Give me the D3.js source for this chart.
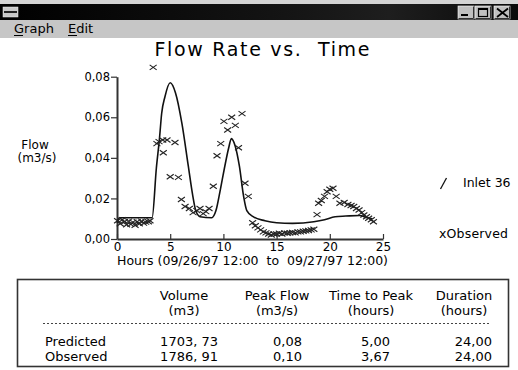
<!DOCTYPE html>
<html><head><meta charset="utf-8">
<script src="https://cdn.jsdelivr.net/npm/d3@7"></script>
<style>
html,body{margin:0;padding:0;background:#fff;}
svg{display:block;font-family:"DejaVu Sans",Verdana,sans-serif;}
</style></head>
<body>
<svg id="c" width="518" height="370"></svg>
<script>
// ---------- data ----------
const title = "Flow Rate vs.  Time";
const xTicks = [0, 5, 10, 15, 20, 25];
const yTicks = [0, 0.02, 0.04, 0.06, 0.08];
const yTickLabels = ["0,00", "0,02", "0,04", "0,06", "0,08"];
const xLabel = "Hours (09/26/97 12:00  to  09/27/97 12:00)";
const yLabel = ["Flow", "(m3/s)"];
const seriesNames = ["Inlet 36", "xObserved"];

// predicted (Inlet 36): [hour, flow]
const predHours = [0, 0.25, 3.3, 3.7, 4.0, 4.2, 4.5, 5.0, 5.5, 6.1, 6.7, 7.1, 7.4, 7.8, 8.9, 9.3, 9.7, 10.1, 10.5, 10.75, 11.1, 11.5, 11.9, 12.2, 12.8, 13.9, 15, 16.5, 18.5, 19.5, 20.5, 21.5, 22.8, 23.5, 24];
const predFlow  = [0.008, 0.0105, 0.0105, 0.035, 0.050, 0.062, 0.070, 0.077, 0.072, 0.057, 0.036, 0.022, 0.014, 0.011, 0.0105, 0.014, 0.024, 0.035, 0.045, 0.0495, 0.046, 0.036, 0.021, 0.014, 0.011, 0.009, 0.008, 0.0077, 0.0085, 0.0095, 0.011, 0.0113, 0.0116, 0.0105, 0.010];

// observed: [hour, flow]
const obsHours = [0.05, 0.3, 0.5, 0.7, 0.9, 1.1, 1.3, 1.5, 1.7, 1.9, 2.1, 2.3, 2.5, 2.7, 2.95, 3.1,
  3.4, 3.75, 3.95, 4.3, 4.35, 4.7, 5.0, 5.45, 5.77, 6.05, 6.4, 6.8, 7.15, 7.5, 7.8, 8.1, 8.35, 8.65,
  9.05, 9.4, 9.75, 10.05, 10.4, 10.78, 11.12, 11.42, 11.75, 12.03, 12.34,
  12.75, 13.0, 13.25, 13.5, 13.75, 14.0, 14.25, 14.5, 14.75, 15.0, 15.25, 15.5, 15.75, 16.0, 16.25, 16.5, 16.75, 17.0, 17.25, 17.5, 17.75, 18.0, 18.25, 18.5,
  18.8, 18.95, 19.2, 19.5, 19.75, 20.0, 20.3, 20.6, 20.95, 21.35, 21.7, 22.0, 22.25, 22.5, 22.75, 23.0, 23.2, 23.45, 23.65, 23.9, 24.1];
const obsFlow = [0.009, 0.0075, 0.0095, 0.0085, 0.007, 0.0088, 0.0072, 0.0083, 0.0068, 0.0085, 0.0075, 0.0088, 0.0078, 0.0083, 0.0085, 0.009,
  0.0846, 0.047, 0.048, 0.0488, 0.0425, 0.0488, 0.0307, 0.0476, 0.0304, 0.0195, 0.016, 0.015, 0.013, 0.014, 0.015, 0.0125, 0.0135, 0.015,
  0.026, 0.041, 0.047, 0.058, 0.0537, 0.060, 0.056, 0.045, 0.0618, 0.0275, 0.021,
  0.008, 0.0065, 0.0055, 0.0045, 0.0035, 0.003, 0.0025, 0.002, 0.0025, 0.0025, 0.0028, 0.0025, 0.003, 0.0028, 0.003, 0.0032, 0.003, 0.0035, 0.0035, 0.0038, 0.004, 0.0042, 0.0045, 0.0048,
  0.012, 0.0176, 0.019, 0.021, 0.0233, 0.0245, 0.025, 0.021, 0.0176, 0.018, 0.017, 0.0165, 0.016, 0.015, 0.0143, 0.013, 0.0118, 0.011, 0.0102, 0.0095, 0.0085];

// summary table
const tableHeaders1 = ["Volume", "Peak Flow", "Time to Peak", "Duration"];
const tableHeaders2 = ["(m3)", "(m3/s)", "(hours)", "(hours)"];
const rowNames = ["Predicted", "Observed"];
const predictedRow = ["1703, 73", "0,08", "5,00", "24,00"];
const observedRow  = ["1786, 91", "0,10", "3,67", "24,00"];
const menuItems = ["Graph", "Edit"];

// ---------- drawing ----------
const svg = d3.select("#c");

// window chrome
svg.append("rect").attr("x",0).attr("y",0).attr("width",518).attr("height",4).attr("fill","#d4d4d4");
const grad = svg.append("defs").append("linearGradient").attr("id","tb").attr("x1","0").attr("x2","1");
grad.append("stop").attr("offset","0").attr("stop-color","#000");
grad.append("stop").attr("offset","0.55").attr("stop-color","#141414");
grad.append("stop").attr("offset","0.75").attr("stop-color","#1e1e1e");
grad.append("stop").attr("offset","1").attr("stop-color","#0a0a0a");
svg.append("rect").attr("x",0).attr("y",4).attr("width",518).attr("height",16).attr("fill","url(#tb)");
// system icon
svg.append("rect").attr("x",3).attr("y",7).attr("width",15).attr("height",10).attr("fill","#c8c8c8").attr("stroke","#eee").attr("stroke-width",0.5);
svg.append("rect").attr("x",4).attr("y",11).attr("width",13).attr("height",2).attr("fill","#222");
// buttons
const btnX = [458, 475, 494];
btnX.forEach((bx,i)=>{
  svg.append("rect").attr("x",bx).attr("y",6).attr("width",16).attr("height",13).attr("fill","#c0c0c0").attr("stroke","#fff").attr("stroke-width",0.6);
  svg.append("path").attr("d",`M${bx+0.5},18.5H${bx+15.5}V6.5`).attr("fill","none").attr("stroke","#333");
});
svg.append("rect").attr("x",461).attr("y",14).attr("width",7).attr("height",2).attr("fill","#000");
svg.append("rect").attr("x",478.5).attr("y",8.5).attr("width",9).attr("height",8).attr("fill","none").attr("stroke","#000").attr("stroke-width",1.2);
svg.append("rect").attr("x",478.5).attr("y",8.5).attr("width",9).attr("height",1.5).attr("fill","#000");
svg.append("path").attr("d","M497,8.5L508,17 M508,8.5L497,17").attr("stroke","#000").attr("stroke-width",1.8);
// menu bar
svg.append("rect").attr("x",0).attr("y",20).attr("width",518).attr("height",18).attr("fill","#c6c6c6");
const menuX = [14, 68];
menuItems.forEach((m,i)=>{
  svg.append("text").attr("x",menuX[i]).attr("y",33).attr("font-size",13).attr("fill","#000").text(m);
  svg.append("line").attr("x1",menuX[i]).attr("x2",menuX[i]+9).attr("y1",35.5).attr("y2",35.5).attr("stroke","#000");
});

// chart scales
const x = d3.scaleLinear().domain([0,25]).range([117,383]);
const y = d3.scaleLinear().domain([0,0.08]).range([239,76.7]);

svg.append("text").attr("x",262).attr("y",56).attr("text-anchor","middle").attr("font-size",19)
  .style("white-space","pre")
  .attr("textLength",215).attr("lengthAdjust","spacing").attr("fill","#000").text(title);

// x axis
const gx = svg.append("g").attr("transform","translate(0,239)")
  .call(d3.axisBottom(x).tickValues(xTicks).tickSizeInner(-5).tickSizeOuter(0).tickPadding(3));
gx.select(".domain").attr("stroke","#333").attr("stroke-width",2);
gx.selectAll(".tick line").attr("stroke","#333").attr("stroke-width",1.2);
gx.selectAll(".tick text").attr("font-size",12).attr("fill","#000").attr("font-family","DejaVu Sans, Verdana");

// y axis
const gy = svg.append("g").attr("transform","translate(117,0)")
  .call(d3.axisLeft(y).tickValues(yTicks).tickFormat((d,i)=>yTickLabels[i]).tickSizeInner(6).tickSizeOuter(0).tickPadding(1));
gy.select(".domain").attr("stroke","#333").attr("stroke-width",2);
gy.selectAll(".tick line").attr("stroke","#333").attr("stroke-width",1.2);
gy.selectAll(".tick text").attr("font-size",11.5).attr("fill","#000").attr("font-family","DejaVu Sans, Verdana");

// axis labels
svg.append("text").attr("x",117).attr("y",265).attr("font-size",12.5).style("white-space","pre")
  .attr("textLength",271).attr("lengthAdjust","spacingAndGlyphs").attr("fill","#000").text(xLabel);
svg.append("text").attr("x",35).attr("y",149).attr("text-anchor","middle").attr("font-size",12).text(yLabel[0]);
svg.append("text").attr("x",37).attr("y",162).attr("text-anchor","middle").attr("font-size",12).text(yLabel[1]);

// predicted line
const pred = predHours.map((h,i)=>[h,predFlow[i]]);
svg.append("path").datum(pred)
  .attr("d", d3.line().x(d=>x(d[0])).y(d=>y(d[1])).curve(d3.curveMonotoneX))
  .attr("fill","none").attr("stroke","#111").attr("stroke-width",1.6);

// observed markers
const obs = obsHours.map((h,i)=>[h,obsFlow[i]]);
svg.append("g").selectAll("path").data(obs).join("path")
  .attr("transform",d=>`translate(${x(d[0])},${y(d[1])})`)
  .attr("d","M-3.5,-2.5L3.5,2.5M-3.5,2.5L3.5,-2.5")
  .attr("stroke","#222").attr("stroke-width",1.1).attr("fill","none");

// legend
svg.append("line").attr("x1",440.5).attr("y1",189).attr("x2",446.5).attr("y2",178).attr("stroke","#111").attr("stroke-width",1.3);
svg.append("text").attr("x",463).attr("y",187).attr("font-size",12.5).text(seriesNames[0]);
svg.append("text").attr("x",439).attr("y",238).attr("font-size",12.5).attr("textLength",69).attr("lengthAdjust","spacing").text(seriesNames[1]);

// table
svg.append("rect").attr("x",17.5).attr("y",279.5).attr("width",491).attr("height",87).attr("fill","#fff").attr("stroke","#333").attr("stroke-width",1.6);
const headCx = [184, 277, 371, 464];
const valRx = [218, 302, 390, 492];
tableHeaders1.forEach((h,i)=>{
  svg.append("text").attr("x",headCx[i]).attr("y",300).attr("text-anchor","middle").attr("font-size",13).text(h);
  svg.append("text").attr("x",headCx[i]).attr("y",315).attr("text-anchor","middle").attr("font-size",13).text(tableHeaders2[i]);
});
svg.append("line").attr("x1",43).attr("x2",491).attr("y1",323.5).attr("y2",323.5)
  .attr("stroke","#444").attr("stroke-dasharray","2,2");
const rows = [predictedRow, observedRow];
const rowY = [346, 361];
rowNames.forEach((r,j)=>{
  svg.append("text").attr("x",45).attr("y",rowY[j]).attr("font-size",13).text(r);
  rows[j].forEach((v,i)=>{
    svg.append("text").attr("x",valRx[i]).attr("y",rowY[j]).attr("text-anchor","end").attr("font-size",13).text(v);
  });
});
</script>
</body></html>
